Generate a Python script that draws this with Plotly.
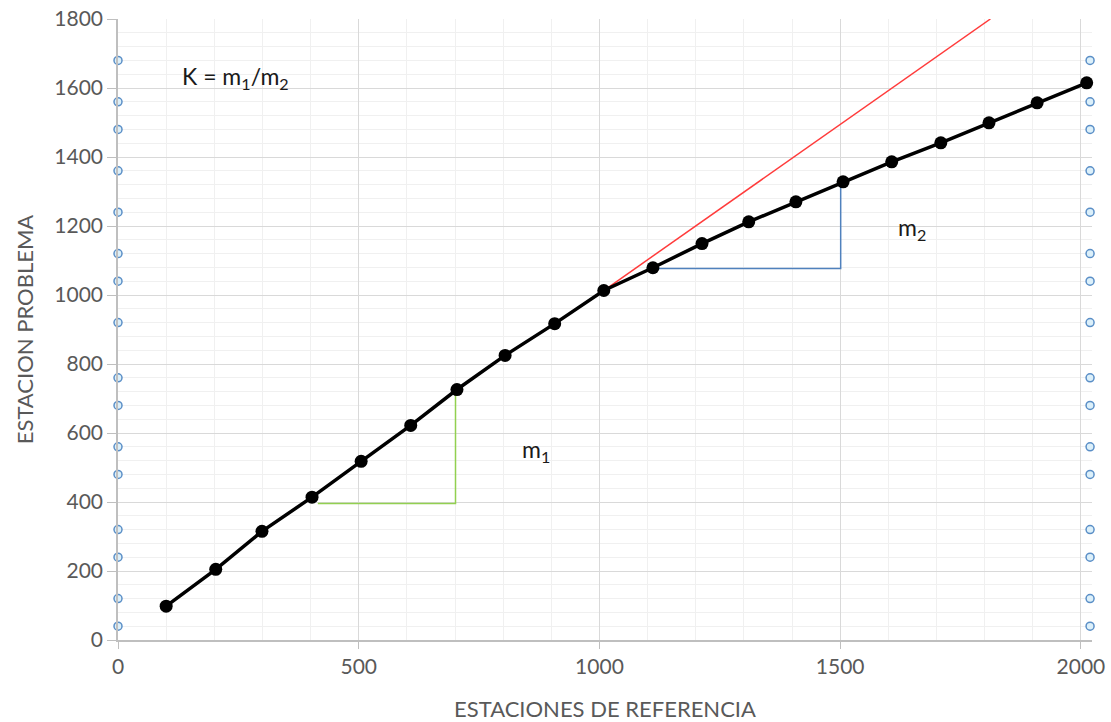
import plotly.graph_objects as go

# Main series: ESTACIONES DE REFERENCIA vs ESTACION PROBLEMA
ref_x = [100, 203, 299, 403, 505, 608, 704, 804, 907, 1009,
         1111, 1213, 1310, 1408, 1506, 1607, 1709, 1809, 1909, 2012]
prob_y = [98, 205, 315, 414, 518, 622, 726, 825, 917, 1013,
          1079, 1149, 1212, 1270, 1328, 1386, 1441, 1499, 1557, 1615]

# Tangent (red) line
tan_x = [1009, 1812]
tan_y = [1013, 1800]

# Slope triangles
m1_x = [415, 701, 701]
m1_y = [396, 396, 726]
m2_x = [1111, 1501, 1501]
m2_y = [1077, 1077, 1328]

# Reference circles on both sides
circ_y = [1680, 1560, 1480, 1360, 1240, 1120, 1040, 920,
          760, 680, 560, 480, 320, 240, 120, 40]
circ_left_x = [0] * len(circ_y)
circ_right_x = [2019] * len(circ_y)

x_ticks = [0, 500, 1000, 1500, 2000]
y_ticks = [0, 200, 400, 600, 800, 1000, 1200, 1400, 1600, 1800]

FONT = "Lato, 'Open Sans', sans-serif"
GRAY = "#595959"

fig = go.Figure()

fig.add_trace(go.Scatter(x=m1_x, y=m1_y, mode="lines",
                         line=dict(color="#92d050", width=1.5), hoverinfo="skip"))
fig.add_trace(go.Scatter(x=m2_x, y=m2_y, mode="lines",
                         line=dict(color="#4f81bd", width=1.5), hoverinfo="skip"))
fig.add_trace(go.Scatter(x=tan_x, y=tan_y, mode="lines",
                         line=dict(color="#ff3b3b", width=1.5), hoverinfo="skip"))
fig.add_trace(go.Scatter(x=ref_x, y=prob_y, mode="lines+markers",
                         line=dict(color="black", width=3.5),
                         marker=dict(color="black", size=13), cliponaxis=False))
for cx in (circ_left_x, circ_right_x):
    fig.add_trace(go.Scatter(x=cx, y=circ_y, mode="markers", cliponaxis=False,
                             marker=dict(size=8, color="#dcf0fa",
                                         line=dict(color="#5b8fc7", width=1.5))))

annots = [
    ("K = m<sub>1</sub>/m<sub>2</sub>", 235, 77),
    ("m<sub>1</sub>", 536, 450),
    ("m<sub>2</sub>", 912, 228),
]
x0_px, x1_px, xr = 118, 1092, 2023
y0_px, y1_px, yr = 640, 19, 1800
for txt, px, py in annots:
    fig.add_annotation(
        x=(px - x0_px) / (x1_px - x0_px) * xr,
        y=(y0_px - py) / (y0_px - y1_px) * yr,
        text=txt, showarrow=False,
        font=dict(family=FONT, size=23, color="#1a1a1a"),
        xanchor="center", yanchor="middle")

fig.update_layout(
    width=1111, height=722,
    margin=dict(l=118, r=19, t=19, b=82),
    paper_bgcolor="white", plot_bgcolor="white",
    showlegend=False,
    font=dict(family=FONT, color=GRAY, size=21),
    xaxis=dict(
        range=[0, 2023], tickvals=x_ticks, ticktext=[str(v) for v in x_ticks],
        showgrid=True, gridcolor="#d9d9d9", gridwidth=1,
        minor=dict(dtick=100, tick0=0, showgrid=True, gridcolor="#f0f0f0", gridwidth=1),
        showline=True, linecolor="#bfbfbf", linewidth=1.5,
        ticks="outside", ticklen=7, tickcolor="#bfbfbf",
        zeroline=False, automargin=False,
        tickfont=dict(size=21, color=GRAY, family=FONT),
        title=dict(text="ESTACIONES DE REFERENCIA", standoff=28,
                   font=dict(size=22, color=GRAY, family=FONT)),
    ),
    yaxis=dict(
        range=[0, 1800], tickvals=y_ticks, ticktext=[str(v) for v in y_ticks],
        showgrid=True, gridcolor="#d9d9d9", gridwidth=1,
        minor=dict(dtick=40, tick0=0, showgrid=True, gridcolor="#f0f0f0", gridwidth=1),
        showline=True, linecolor="#bfbfbf", linewidth=1.5,
        ticks="outside", ticklen=9, tickcolor="#bfbfbf",
        zeroline=False, automargin=False,
        tickfont=dict(size=21, color=GRAY, family=FONT),
        title=dict(text="ESTACION PROBLEMA",
                   font=dict(size=22, color=GRAY, family=FONT)),
    ),
)

fig.write_html("out.html", config={"displayModeBar": False},
               post_script="document.body.style.margin='0';")
